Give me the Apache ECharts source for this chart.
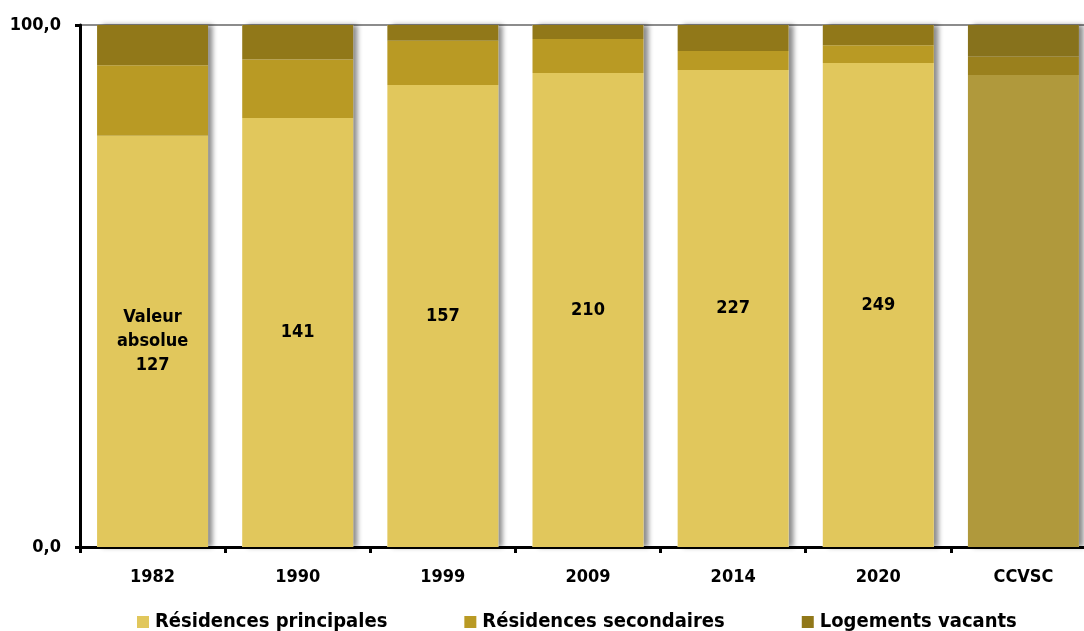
<!DOCTYPE html>
<html>
<head>
<meta charset="utf-8">
<script src="https://cdn.jsdelivr.net/npm/echarts@6/dist/echarts.min.js"></script>
<style>
html,body{margin:0;padding:0;background:#fff;}
#c{width:1084px;height:631px;}
</style>
</head>
<body>
<div id="c"></div>
<script>
const categories = ['1982', '1990', '1999', '2009', '2014', '2020', 'CCVSC'];
const principales = [78.8, 82.2, 88.5, 90.8, 91.4, 92.7, 90.4];
const secondaires = [13.5, 11.2, 8.5, 6.5, 3.6, 3.4, 3.5];
const vacants = [7.7, 6.6, 3.0, 2.7, 5.0, 3.9, 6.1];
const valeursAbsolues = [127, 141, 157, 210, 227, 249, null];
const seriesNames = ['Résidences principales', 'Résidences secondaires', 'Logements vacants'];
const yTickLabels = { 0: '0,0', 100: '100,0' };

const colors = ['#E1C75C', '#B99A24', '#917819'];
const ccvscColors = ['#B0993C', '#9A801D', '#87721C'];
const FONT = '"DejaVu Sans Condensed", "DejaVu Sans", sans-serif';

function withOverride(values, idx) {
  return values.map((v, i) => i === categories.length - 1
    ? { value: v, itemStyle: { color: ccvscColors[idx] } }
    : v);
}
const totals = categories.map((c, i) => principales[i] + secondaires[i] + vacants[i]);

const chart = echarts.init(document.getElementById('c'), null, { renderer: 'canvas' });
chart.setOption({
  animation: false,
  textStyle: { fontFamily: FONT },
  grid: { left: 80, top: 25, right: -12, bottom: 84, outerBoundsMode: 'none', containLabel: false },
  legend: {
    data: seriesNames,
    left: 132,
    top: 607,
    itemWidth: 12,
    itemHeight: 12,
    itemGap: 77,
    icon: 'rect',
    textStyle: { fontFamily: FONT, fontWeight: 'bold', fontSize: 20, color: '#000', padding: [0, 0, 0, 1] }
  },
  xAxis: {
    type: 'category',
    data: categories,
    axisLine: { show: true, lineStyle: { color: '#000', width: 3 } },
    axisTick: { show: true, length: 6, lineStyle: { color: '#000', width: 3 } },
    axisLabel: { color: '#000', fontFamily: FONT, fontWeight: 'bold', fontSize: 18, margin: 21 }
  },
  yAxis: {
    type: 'value',
    min: 0,
    max: 100,
    interval: 100,
    axisLine: { show: true, lineStyle: { color: '#000', width: 3 } },
    axisTick: { show: true, length: 5, lineStyle: { color: '#000', width: 3 } },
    splitLine: { show: true, lineStyle: { color: '#8c8c8c', width: 2 } },
    axisLabel: {
      color: '#000', fontFamily: FONT, fontWeight: 'bold', fontSize: 18, margin: 19,
      padding: [7, 0, 0, 0],
      formatter: v => yTickLabels[v] !== undefined ? yTickLabels[v] : ''
    }
  },
  series: [
    {
      name: 'ombre', type: 'bar', barWidth: 111, barGap: '-100%', z: 1,
      silent: true, legendHoverLink: false,
      itemStyle: { color: '#fff', shadowColor: 'rgba(0,0,0,0.45)', shadowBlur: 5, shadowOffsetX: 5, shadowOffsetY: 0 },
      data: totals
    },
    {
      name: seriesNames[0], type: 'bar', stack: 'total', barWidth: 111, z: 2,
      itemStyle: { color: colors[0] },
      data: withOverride(principales, 0),
      label: {
        show: true, position: 'inside', color: '#000', fontFamily: FONT,
        fontWeight: 'bold', fontSize: 18, lineHeight: 24,
        formatter: p => {
          const v = valeursAbsolues[p.dataIndex];
          if (v === null || v === undefined) return '';
          return p.dataIndex === 0 ? 'Valeur\nabsolue\n' + v : String(v);
        }
      }
    },
    {
      name: seriesNames[1], type: 'bar', stack: 'total', barWidth: 111, z: 2,
      itemStyle: { color: colors[1] },
      data: withOverride(secondaires, 1)
    },
    {
      name: seriesNames[2], type: 'bar', stack: 'total', barWidth: 111, z: 2,
      itemStyle: { color: colors[2] },
      data: withOverride(vacants, 2)
    }
  ]
});
</script>
</body>
</html>
